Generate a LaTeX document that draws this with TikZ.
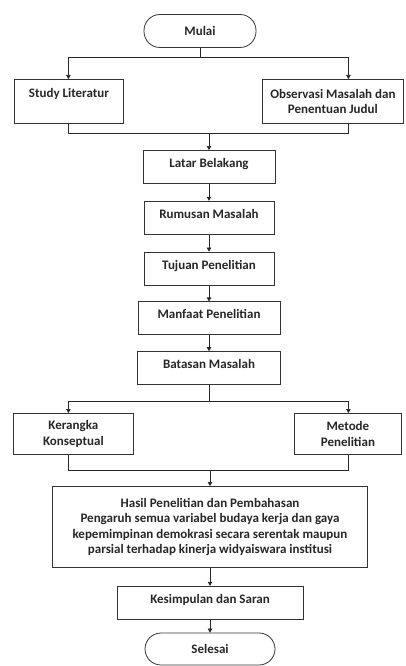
\documentclass[tikz,border=0pt]{standalone}
\usepackage{fontspec}
\setmainfont{Carlito}
\usepackage{tikz}
\usetikzlibrary{positioning}
\usetikzlibrary{arrows.meta}
\usetikzlibrary{calc}
\tikzset{node distance=17pt,
	every node/.style={
		font=\fontsize{13}{15.5}\selectfont\bfseries,
		text=black!85},
	terminal/.style={
		draw=black!80,
		line width=0.8pt,
		rounded corners=16pt,
		minimum width=112pt,
		minimum height=33pt},
	stepbox/.style={
		draw=black!80,
		line width=0.8pt,
		inner ysep=4pt,
		text height=13pt,
		text depth=12pt},
	bigbox/.style={
		draw=black!80,
		line width=0.8pt,
		align=center},
	flow/.style={
		draw=black!85,
		line width=0.7pt,
		-{Triangle[length=4pt,width=4.5pt]}},
	line/.style={
		draw=black!85,
		line width=0.7pt}
}
\begin{document}
\begin{tikzpicture}[x=1pt,y=-1pt]
	\useasboundingbox (0,0) rectangle (405,666);
	\node[terminal] (mulai) at (200,31) {Mulai};
	\node[stepbox, anchor=north west, minimum width=109pt, text height=14pt, text depth=22pt] (study) at (14,79) {Study Literatur};
	\node[bigbox, anchor=north west, minimum width=141pt, minimum height=44pt] (obs) at (262,79) {Observasi Masalah dan\\Penentuan Judul};
	\node[stepbox, anchor=north, minimum width=132pt] (latar) at (209,150) {Latar Belakang};
	\node[stepbox, below=of latar, minimum width=130pt] (rumusan) {Rumusan Masalah};
	\node[stepbox, below=of rumusan, minimum width=130pt] (tujuan) {Tujuan Penelitian};
	\node[stepbox, below=16pt of tujuan, minimum width=142pt] (manfaat) {Manfaat Penelitian};
	\node[stepbox, below=16pt of manfaat, minimum width=143pt] (batasan) {Batasan Masalah};
	\node[bigbox, anchor=north west, minimum width=120pt, minimum height=41pt] (kerangka) at (13,413) {Kerangka\\Konseptual};
	\node[bigbox, anchor=north west, minimum width=107pt, minimum height=41pt] (metode) at (294,413) {Metode\\Penelitian};
	\node[bigbox, anchor=north, minimum width=315pt, minimum height=81pt] (hasil) at (210,486) {Hasil Penelitian dan Pembahasan\\Pengaruh semua variabel budaya kerja dan gaya\\kepemimpinan demokrasi secara serentak maupun\\parsial terhadap kinerja widyaiswara institusi};
	\node[stepbox, below=18pt of hasil, minimum width=186pt] (kesimpulan) {Kesimpulan dan Saran};
	\node[terminal, below=13pt of kesimpulan, minimum width=130pt, minimum height=32pt] (selesai) {Selesai};
	% cabang awal
	\coordinate (split1) at ($(mulai.south)+(0,9)$);
	\draw[line] (mulai.south) -- (split1);
	\draw[flow] (split1) -| ([xshift=-0.5pt]study.north);
	\draw[flow] (split1) -| ([xshift=15.5pt]obs.north);
	\coordinate (join1) at ($(study.south)+(0,10)$);
	\draw[line] ([xshift=-0.5pt]study.south) -- ([xshift=-0.5pt]join1) -| ([xshift=15.5pt]obs.south);
	\draw[flow] (join1 -| latar) -- (latar);
	% urutan utama
	\draw[flow] (latar) -- (rumusan);
	\draw[flow] (rumusan) -- (tujuan);
	\draw[flow] (tujuan) -- (manfaat);
	\draw[flow] (manfaat) -- (batasan);
	% cabang kedua
	\coordinate (split2) at ($(batasan.south)+(0,16)$);
	\draw[line] (batasan.south) -- (split2);
	\draw[flow] (split2) -| ([xshift=-5pt]kerangka.north);
	\draw[flow] (split2) -| ([xshift=0.5pt]metode.north);
	\coordinate (join2) at ($(kerangka.south)+(-5,16)$);
	\draw[line] ([xshift=-5pt]kerangka.south) -- (join2) -| ([xshift=0.5pt]metode.south);
	\draw[flow] (join2 -| hasil) -- (hasil);
	\draw[flow] (hasil) -- (kesimpulan);
	\draw[flow] (kesimpulan) -- (selesai);
\end{tikzpicture}
\end{document}
